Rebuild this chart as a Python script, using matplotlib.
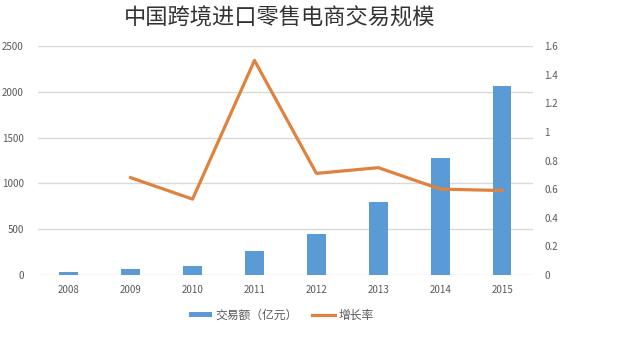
import matplotlib
matplotlib.use('Agg')
import matplotlib.pyplot as plt
from matplotlib.patches import Patch
from matplotlib.lines import Line2D

plt.rcParams['font.family'] = ['Noto Sans CJK SC', 'DejaVu Sans']

years = ['2008', '2009', '2010', '2011', '2012', '2013', '2014', '2015']
amount = [35, 62, 100, 260, 450, 800, 1280, 2060]
growth_years = ['2009', '2010', '2011', '2012', '2013', '2014', '2015']
growth = [0.68, 0.53, 1.50, 0.71, 0.75, 0.60, 0.59]

bar_color = '#5B9BD5'
line_color = '#E0823F'
grid_color = '#D9D9D9'
tick_color = '#595959'

fig = plt.figure(figsize=(6.4, 3.52), dpi=100)
ax = fig.add_axes([0.059, 0.219, 0.774, 0.650])
ax2 = ax.twinx()

x = list(range(len(years)))
ax.bar(x, amount, width=0.3, color=bar_color, zorder=2)
gx = [years.index(y) for y in growth_years]
ax2.plot(gx, growth, color=line_color, linewidth=2.3, zorder=3)

ax.set_xlim(-0.5, 7.5)
ax.set_ylim(0, 2500)
ax.set_yticks(range(0, 2501, 500))
ax2.set_ylim(0, 1.6)
ax2.set_yticks([0, 0.2, 0.4, 0.6, 0.8, 1, 1.2, 1.4, 1.6])
ax2.set_yticklabels(['0', '0.2', '0.4', '0.6', '0.8', '1', '1.2', '1.4', '1.6'])
ax.set_xticks(x)
ax.set_xticklabels(years)

ax.grid(axis='y', color=grid_color, linewidth=1, zorder=0)
ax.set_axisbelow(True)
for a in (ax, ax2):
    for s in a.spines.values():
        s.set_visible(False)
    a.tick_params(length=0, labelsize=7, colors=tick_color)
ax.tick_params(axis='y', pad=10)
ax.tick_params(axis='x', pad=7)
ax2.tick_params(axis='y', pad=8)

fig.text(0.437, 0.950, '中国跨境进口零售电商交易规模', ha='center', va='center',
         fontsize=16, fontweight='light', color='#333333')

handles = [Patch(facecolor=bar_color, label='交易额（亿元）'),
           Line2D([0], [0], color=line_color, linewidth=2.3, label='增长率')]
fig.legend(handles=handles, loc='center', bbox_to_anchor=(0.439, 0.105), ncol=2,
           frameon=False, fontsize=8.5, handlelength=2.0, handleheight=0.35,
           handletextpad=0.25, columnspacing=1.2, labelcolor=tick_color)

fig.savefig('out.png', dpi=100)
